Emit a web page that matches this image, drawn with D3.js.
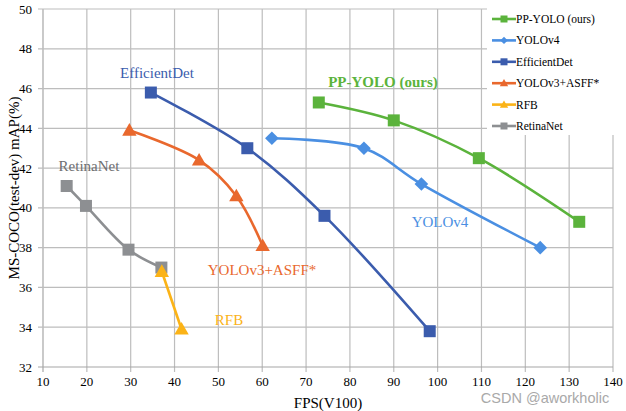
<!DOCTYPE html>
<html><head><meta charset="utf-8">
<script src="https://cdn.jsdelivr.net/npm/d3@7"></script>
<style>body{margin:0;background:#fff}svg{display:block}</style>
</head><body><svg id="c" width="626" height="411"></svg>
<script>
const seriesNames = ["PP-YOLO (ours)","YOLOv4","EfficientDet","YOLOv3+ASFF*","RFB","RetinaNet"];
const ppyoloFps = [72.9, 90.0, 109.4, 132.3];
const ppyoloMap = [45.3, 44.4, 42.5, 39.3];
const yolov4Fps = [62.2, 83.2, 96.3, 123.4];
const yolov4Map = [43.5, 43.0, 41.2, 38.0];
const effdetFps = [34.6, 56.6, 74.2, 98.2];
const effdetMap = [45.8, 43.0, 39.6, 33.8];
const asffFps = [29.7, 45.6, 54.1, 60.1];
const asffMap = [43.9, 42.4, 40.6, 38.1];
const rfbFps = [37.1, 41.6];
const rfbMap = [36.8, 33.9];
const retinaFps = [15.4, 19.8, 29.5, 37.0];
const retinaMap = [41.1, 40.1, 37.9, 37.0];
const xTicks = [10,20,30,40,50,60,70,80,90,100,110,120,130,140];
const yTicks = [32,34,36,38,40,42,44,46,48,50];

const colors = ["#5bb33c","#4a8fe2","#3b5cad","#e9682d","#fbb317","#8d8f92"];
const markers = ["square","diamond","square","triangle","triangle","square"];
const data = [
  [ppyoloFps, ppyoloMap],[yolov4Fps,yolov4Map],[effdetFps,effdetMap],
  [asffFps,asffMap],[rfbFps,rfbMap],[retinaFps,retinaMap]
];

const svg = d3.select("#c");
const x = d3.scaleLinear().domain([10,140]).range([43,613]);
const y = d3.scaleLinear().domain([32,50]).range([367,9]);
const serif = "'Liberation Serif','Times New Roman',serif";

// grid
svg.append("g").selectAll("line").data(xTicks).join("line")
  .attr("x1",d=>x(d)).attr("x2",d=>x(d)).attr("y1",y(50)).attr("y2",y(32)+5)
  .attr("stroke",d=>d===10?"#a6a6a6":"#bdbdbd").attr("stroke-width",1.2);
svg.append("g").selectAll("line").data(yTicks).join("line")
  .attr("x1",x(10)-5).attr("x2",x(140)).attr("y1",d=>y(d)).attr("y2",d=>y(d))
  .attr("stroke",d=>d===32?"#a6a6a6":"#bdbdbd").attr("stroke-width",1.2);

// tick labels
svg.append("g").selectAll("text").data(xTicks).join("text")
  .attr("x",d=>x(d)).attr("y",386).attr("text-anchor","middle")
  .attr("font-family",serif).attr("font-size",13).text(d=>d);
svg.append("g").selectAll("text").data(yTicks).join("text")
  .attr("x",32).attr("y",d=>y(d)+4.5).attr("text-anchor","end")
  .attr("font-family",serif).attr("font-size",13).text(d=>d);

svg.append("text").attr("x",328).attr("y",408).attr("text-anchor","middle")
  .attr("font-family",serif).attr("font-size",15).text("FPS(V100)");
svg.append("text").attr("transform","translate(19,188) rotate(-90)").attr("text-anchor","middle")
  .attr("font-family",serif).attr("font-size",15).text("MS-COCO(test-dev) mAP(%)");

// series
const line = d3.line().x(d=>x(d[0])).y(d=>y(d[1])).curve(d3.curveCatmullRom.alpha(0.5));
function marker(g, type, cx, cy, col, s){
  if(type==="square") g.append("rect").attr("x",cx-s/2).attr("y",cy-s/2).attr("width",s).attr("height",s).attr("fill",col);
  else if(type==="diamond") g.append("path").attr("d",`M${cx},${cy-s*0.62}L${cx+s*0.62},${cy}L${cx},${cy+s*0.62}L${cx-s*0.62},${cy}Z`).attr("fill",col);
  else g.append("path").attr("d",`M${cx},${cy-s*0.6}L${cx+s*0.6},${cy+s*0.45}L${cx-s*0.6},${cy+s*0.45}Z`).attr("fill",col);
}
const order = [5,4,3,2,1,0];
order.forEach(i=>{
  const pts = data[i][0].map((v,j)=>[v,data[i][1][j]]);
  const g = svg.append("g");
  g.append("path").attr("d",line(pts)).attr("fill","none").attr("stroke",colors[i]).attr("stroke-width",2.6);
  pts.forEach(p=>marker(g, markers[i], x(p[0]), y(p[1]), colors[i], markers[i]==="diamond"?11:12));
});

// in-plot labels
const labels = [
  {t:"PP-YOLO (ours)", x:383, y:87, c:"#5bb33c", w:"bold"},
  {t:"YOLOv4", x:440, y:227, c:"#4a8fe2"},
  {t:"EfficientDet", x:157, y:78, c:"#3b5cad"},
  {t:"YOLOv3+ASFF*", x:262, y:275, c:"#e9682d"},
  {t:"RFB", x:229, y:325, c:"#fbb317"},
  {t:"RetinaNet", x:89, y:171, c:"#6d6e70"}
];
svg.append("g").selectAll("text").data(labels).join("text")
  .attr("x",d=>d.x).attr("y",d=>d.y).attr("text-anchor","middle")
  .attr("font-family",serif).attr("font-size",15).attr("font-weight",d=>d.w||"normal")
  .attr("fill",d=>d.c).text(d=>d.t);

// legend
const lg = svg.append("g");
lg.append("rect").attr("x",487).attr("y",4).attr("width",134).attr("height",131).attr("fill","#fff");
seriesNames.forEach((n,i)=>{
  const ly = 19 + i*21.4;
  lg.append("line").attr("x1",492).attr("x2",516).attr("y1",ly).attr("y2",ly).attr("stroke",colors[i]).attr("stroke-width",2.6);
  marker(lg, markers[i], 504, ly, colors[i], markers[i]==="diamond"?6:7);
  lg.append("text").attr("x",516).attr("y",ly+4).attr("font-family",serif).attr("font-size",11.5).text(n);
});

// watermark
svg.append("text").attr("x",545).attr("y",403).attr("text-anchor","middle")
  .attr("font-family","'Liberation Sans',Arial,sans-serif").attr("font-size",14.5).attr("fill","#a9a9a9")
  .text("CSDN @aworkholic");
</script></body></html>
